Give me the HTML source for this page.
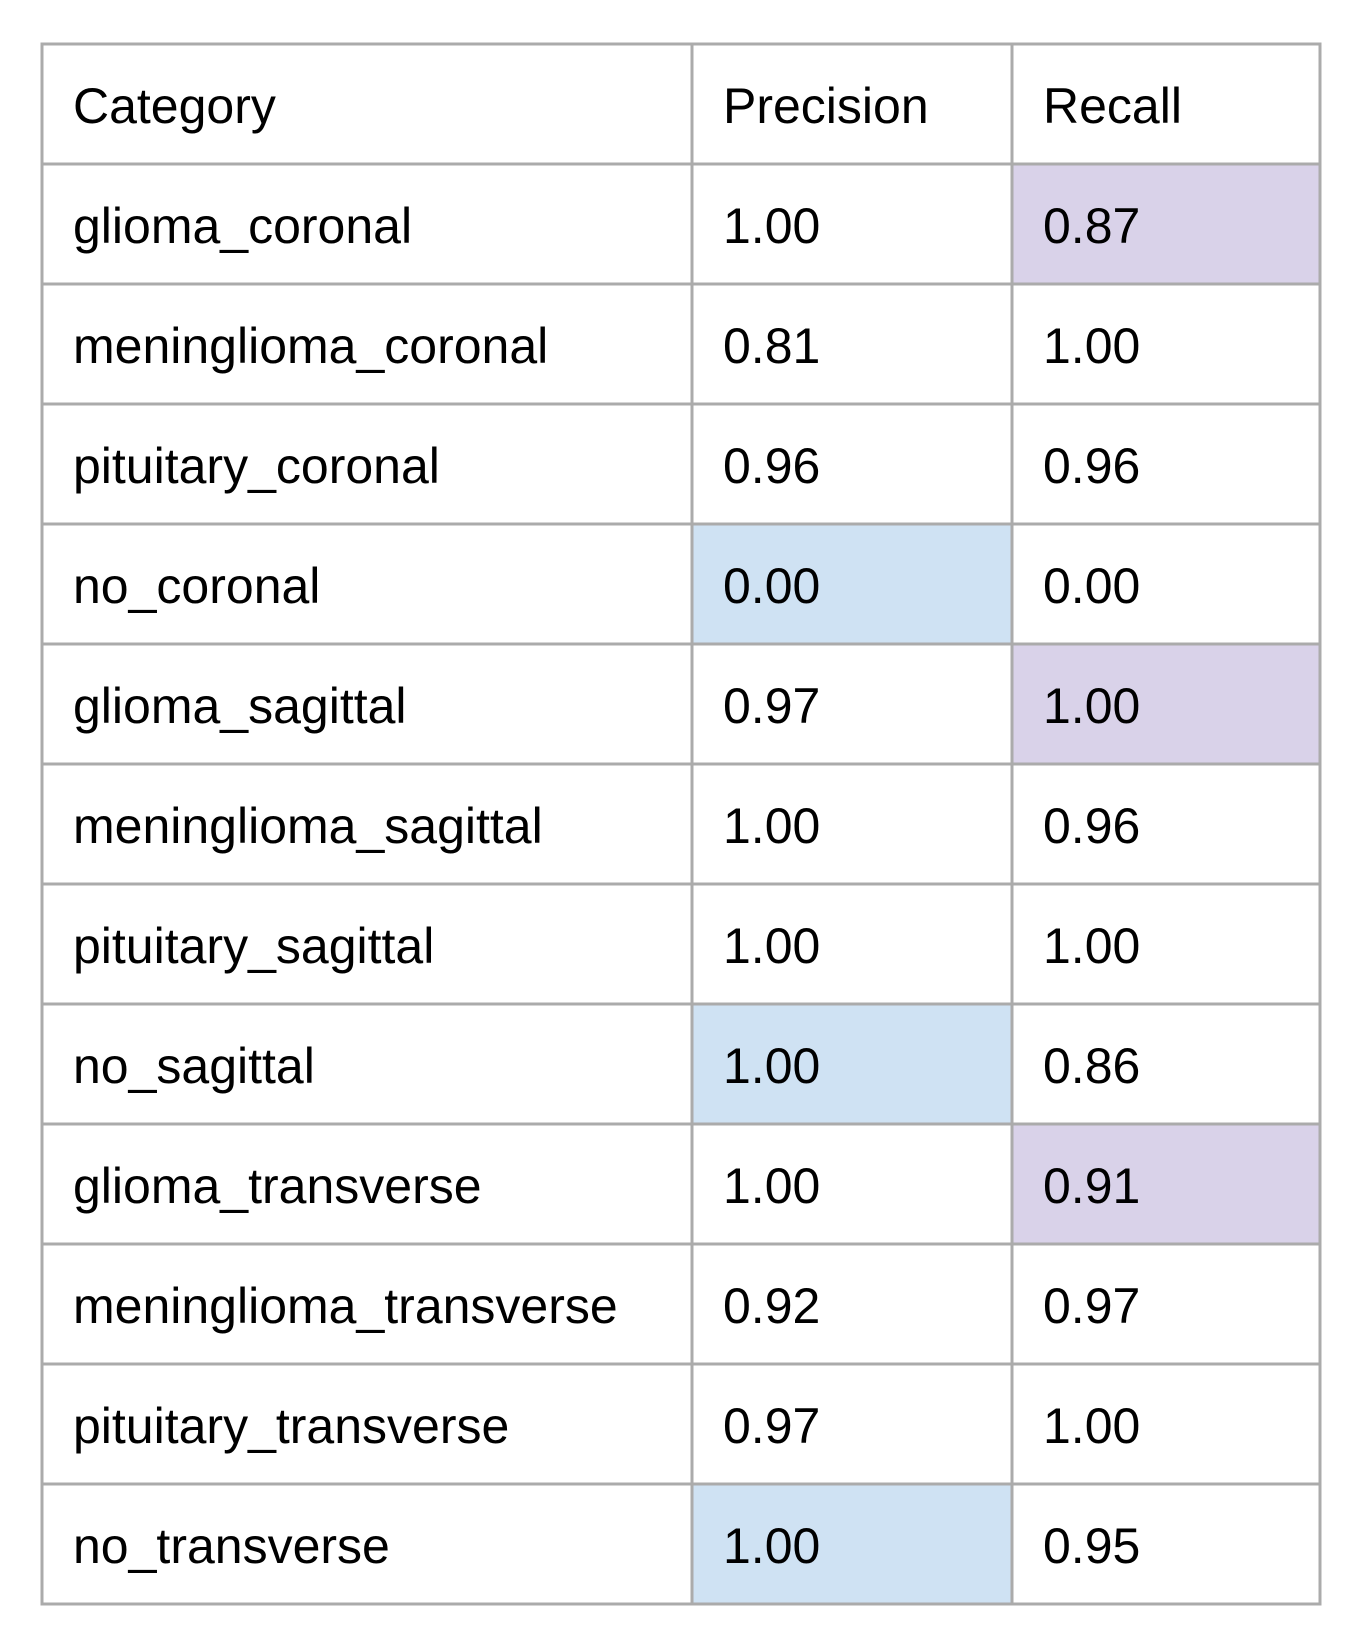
<!DOCTYPE html>
<html><head><meta charset="utf-8"><style>
html,body{margin:0;padding:0;background:#fff;}
svg{display:block;font-family:"Liberation Sans",Arial,sans-serif;}
</style></head><body>
<svg id="t" width="1351" height="1638" xmlns="http://www.w3.org/2000/svg"></svg>
<script>
const headers = ["Category","Precision","Recall"];
const categories = ["glioma_coronal","meninglioma_coronal","pituitary_coronal","no_coronal","glioma_sagittal","meninglioma_sagittal","pituitary_sagittal","no_sagittal","glioma_transverse","meninglioma_transverse","pituitary_transverse","no_transverse"];
const precision = ["1.00","0.81","0.96","0.00","0.97","1.00","1.00","1.00","1.00","0.92","0.97","1.00"];
const recall = ["0.87","1.00","0.96","0.00","1.00","0.96","1.00","0.86","0.91","0.97","1.00","0.95"];
const precisionHighlight = [0,0,0,1,0,0,0,1,0,0,0,1];
const recallHighlight = [1,0,0,0,1,0,0,0,1,0,0,0];

const svg = document.getElementById('t');
const NS = "http://www.w3.org/2000/svg";
const colX = [42, 692, 1012, 1320];
const top0 = 44, rowH = 120;
function mk(tag, attrs){const e=document.createElementNS(NS,tag);for(const k in attrs)e.setAttribute(k,attrs[k]);svg.appendChild(e);return e;}
const nRows = categories.length + 1;
for(let i=0;i<categories.length;i++){
  const y = top0 + (i+1)*rowH;
  if(precisionHighlight[i]){
    const r = mk('rect',{x:colX[1],y:y,width:colX[2]-colX[1],height:rowH,fill:'#cfe2f3'});
    
    
  }
  if(recallHighlight[i]){
    const r = mk('rect',{x:colX[2],y:y,width:colX[3]-colX[2],height:rowH,fill:'#d9d2e9'});
    
    
  }
}
for(let r=0;r<=nRows;r++){
  const y = top0 + r*rowH;
  const l = mk('line',{x1:colX[0]-1.5,x2:colX[3]+1.5,y1:y,y2:y,stroke:'#ababab','stroke-width':3});
  
  
}
for(let c=0;c<colX.length;c++){
  const l = mk('line',{x1:colX[c],x2:colX[c],y1:top0,y2:top0+nRows*rowH,stroke:'#ababab','stroke-width':3});
  
  
}
function txt(s,c,r,name){
  const e = mk('text',{x:colX[c]+31,y:top0+r*rowH+79,'font-size':50,fill:'#000'});
  e.textContent = s;
  
  
}
headers.forEach((h,c)=>txt(h,c,0,'header-'+h.toLowerCase()));
categories.forEach((cat,i)=>{
  txt(cat,0,i+1,'category-cell');
  txt(precision[i],1,i+1,'precision-cell');
  txt(recall[i],2,i+1,'recall-cell');
});
</script>
</body></html>
